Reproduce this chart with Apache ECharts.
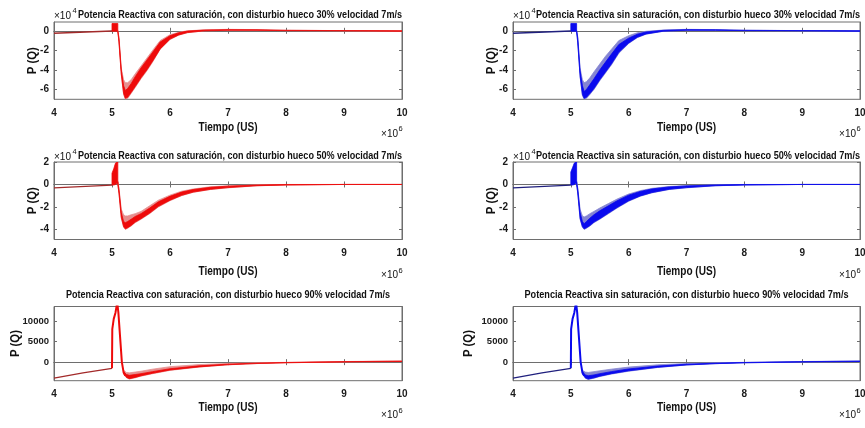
<!DOCTYPE html>
<html>
<head>
<meta charset="utf-8">
<script src="https://cdn.jsdelivr.net/npm/echarts@6/dist/echarts.min.js"></script>
<style>
    html, body { margin: 0; padding: 0; background: #fff; }
    #chart { width: 865px; height: 428px; }
</style>
</head>
<body>
<div id="chart"></div>
<script>
// x in units of 1e6 (Tiempo), rows 1-2 y in units of 1e4
const xTicks = [4, 5, 6, 7, 8, 9, 10]
const yTicks30 = [-6, -4, -2, 0]
const yTicks50 = [-4, -2, 0, 2]
const yTicks90 = [0, 5000, 10000]

const titles = [
    'Potencia Reactiva con saturación, con disturbio hueco 30% velocidad 7m/s',
    'Potencia Reactiva sin saturación, con disturbio hueco 30% velocidad 7m/s',
    'Potencia Reactiva con saturación, con disturbio hueco 50% velocidad 7m/s',
    'Potencia Reactiva sin saturación, con disturbio hueco 50% velocidad 7m/s',
    'Potencia Reactiva con saturación, con disturbio hueco 90% velocidad 7m/s',
    'Potencia Reactiva sin saturación, con disturbio hueco 90% velocidad 7m/s'
]

// ---- 30% con saturacion
const con30PreX = [4.0, 5.0]
const con30PreY = [-0.25, -0.02]
const con30BlkX = [5.0, 5.1]
const con30BlkLo = [-0.05, -0.05]
const con30BlkHi = [0.75, 0.75]
const con30X = [5.10, 5.12, 5.16, 5.20, 5.23, 5.27, 5.33, 5.40, 5.50, 5.60, 5.70, 5.83, 6.00, 6.15, 6.30, 6.60, 7.00, 7.50, 8.00, 9.00, 10.0]
const con30Lo = [-0.05, -1.2, -4.5, -6.5, -7.0, -6.9, -6.4, -5.8, -4.9, -4.1, -3.2, -1.9, -0.9, -0.45, -0.2, 0.0, 0.05, 0.05, 0.02, 0.0, -0.05]
const con30Hi = [0.0, -0.6, -3.8, -5.0, -5.3, -5.3, -5.0, -4.4, -3.6, -2.8, -2.0, -1.0, -0.4, -0.15, 0.0, 0.1, 0.15, 0.12, 0.06, 0.02, 0.0]
const con30CoreLo = [-0.05, -1.1, -4.4, -6.4, -6.9, -6.8, -6.3, -5.7, -4.8, -4.0, -3.1, -1.85, -0.85, -0.42, -0.18, 0.0, 0.05, 0.05, 0.02, 0.0, -0.05]
const con30CoreHi = [0.0, -0.8, -4.0, -5.6, -6.1, -5.9, -5.4, -4.7, -3.8, -3.0, -2.2, -1.15, -0.5, -0.2, -0.03, 0.08, 0.12, 0.1, 0.05, 0.02, 0.0]

// ---- 30% sin saturacion
const sin30PreX = [4.0, 5.0]
const sin30PreY = [-0.25, -0.02]
const sin30BlkX = [5.0, 5.1]
const sin30BlkLo = [-0.05, -0.05]
const sin30BlkHi = [0.75, 0.75]
const sin30X = [5.10, 5.12, 5.16, 5.20, 5.23, 5.27, 5.33, 5.40, 5.50, 5.60, 5.70, 5.83, 6.00, 6.15, 6.30, 6.60, 7.00, 7.50, 8.00, 9.00, 10.0]
const sin30Lo = [-0.05, -1.3, -4.7, -6.6, -7.0, -6.9, -6.5, -6.0, -5.1, -4.3, -3.5, -2.3, -1.3, -0.7, -0.35, -0.05, 0.05, 0.05, 0.02, 0.0, -0.05]
const sin30Hi = [0.0, -0.6, -3.8, -5.0, -5.3, -5.2, -4.8, -4.2, -3.4, -2.6, -1.9, -1.0, -0.5, -0.2, -0.05, 0.08, 0.15, 0.12, 0.06, 0.02, 0.0]
const sin30CoreLo = [-0.05, -1.2, -4.6, -6.5, -6.9, -6.8, -6.4, -5.9, -5.0, -4.2, -3.4, -2.2, -1.25, -0.65, -0.32, -0.04, 0.05, 0.05, 0.02, 0.0, -0.05]
const sin30CoreHi = [0.0, -0.8, -4.1, -5.6, -6.2, -6.0, -5.5, -4.9, -4.0, -3.2, -2.4, -1.4, -0.75, -0.35, -0.12, 0.05, 0.12, 0.1, 0.05, 0.02, 0.0]

// ---- 50% con saturacion
const con50PreX = [4.0, 5.0]
const con50PreY = [-0.3, -0.05]
const con50BlkX = [5.0, 5.03, 5.06, 5.09, 5.10]
const con50BlkLo = [-0.05, -0.05, 0.0, 0.1, 0.1]
const con50BlkHi = [1.0, 1.4, 1.9, 2.0, 2.0]
const con50X = [5.10, 5.12, 5.16, 5.20, 5.23, 5.27, 5.33, 5.40, 5.50, 5.65, 5.80, 6.00, 6.20, 6.40, 6.70, 7.00, 7.50, 8.00, 9.00, 10.0]
const con50Lo = [0.0, -0.8, -3.0, -3.8, -4.0, -3.9, -3.7, -3.4, -3.1, -2.6, -2.0, -1.45, -1.0, -0.7, -0.45, -0.3, -0.12, -0.05, 0.0, 0.0]
const con50Hi = [0.3, -0.3, -2.2, -2.7, -2.8, -2.8, -2.7, -2.6, -2.4, -1.9, -1.4, -0.95, -0.6, -0.4, -0.2, -0.12, -0.03, 0.0, 0.0, 0.0]
const con50CoreLo = [0.0, -0.75, -2.9, -3.75, -3.95, -3.85, -3.65, -3.35, -3.05, -2.55, -1.95, -1.4, -0.97, -0.68, -0.43, -0.28, -0.11, -0.05, 0.0, 0.0]
const con50CoreHi = [0.2, -0.45, -2.5, -3.3, -3.4, -3.3, -3.1, -2.85, -2.6, -2.1, -1.55, -1.05, -0.68, -0.45, -0.25, -0.15, -0.05, -0.01, 0.0, 0.0]

// ---- 50% sin saturacion
const sin50PreX = [4.0, 5.0]
const sin50PreY = [-0.3, -0.05]
const sin50BlkX = [5.0, 5.03, 5.06, 5.09, 5.10]
const sin50BlkLo = [-0.05, -0.05, 0.0, 0.1, 0.1]
const sin50BlkHi = [1.1, 1.5, 1.9, 2.0, 2.0]
const sin50X = [5.10, 5.12, 5.16, 5.20, 5.23, 5.27, 5.33, 5.40, 5.50, 5.65, 5.80, 6.00, 6.20, 6.40, 6.70, 7.00, 7.50, 8.00, 9.00, 10.0]
const sin50Lo = [0.0, -0.8, -3.1, -3.8, -4.0, -3.9, -3.7, -3.4, -3.1, -2.6, -2.1, -1.5, -1.05, -0.75, -0.45, -0.3, -0.12, -0.05, 0.0, 0.0]
const sin50Hi = [0.3, -0.3, -2.2, -2.8, -2.9, -2.8, -2.6, -2.4, -2.1, -1.7, -1.3, -0.85, -0.55, -0.35, -0.18, -0.1, -0.03, 0.0, 0.0, 0.0]
const sin50CoreLo = [0.0, -0.75, -3.0, -3.75, -3.95, -3.85, -3.65, -3.35, -3.05, -2.55, -2.05, -1.45, -1.02, -0.72, -0.43, -0.28, -0.11, -0.05, 0.0, 0.0]
const sin50CoreHi = [0.2, -0.45, -2.5, -3.3, -3.5, -3.3, -3.0, -2.7, -2.35, -1.9, -1.45, -0.95, -0.62, -0.4, -0.22, -0.13, -0.04, -0.01, 0.0, 0.0]

// ---- 90% con saturacion (raw units)
const con90PreX = [4.0, 4.5, 5.0]
const con90PreY = [-3900, -2600, -1500]
const con90SpkX = [5.0, 5.005, 5.03, 5.06, 5.09, 5.11, 5.14, 5.17, 5.20, 5.23]
const con90SpkY = [-1500, 8000, 10500, 12000, 14500, 12000, 6000, 0, -2500, -3300]
const con90X = [5.20, 5.25, 5.30, 5.40, 5.50, 5.70, 6.00, 6.50, 7.00, 7.50, 8.00, 9.00, 10.0]
const con90Lo = [-2800, -3800, -4100, -3800, -3400, -2800, -2000, -1200, -650, -350, -150, 50, 150]
const con90Hi = [-2000, -2500, -2600, -2400, -2200, -1700, -1100, -600, -300, -150, -50, 150, 300]
const con90CoreLo = [-2700, -3700, -4000, -3700, -3300, -2700, -1900, -1150, -620, -330, -140, 60, 160]
const con90CoreHi = [-2300, -3000, -3200, -3000, -2800, -2300, -1600, -900, -480, -240, -90, 110, 250]

// ---- 90% sin saturacion (raw units)
const sin90PreX = [4.0, 4.5, 5.0]
const sin90PreY = [-3900, -2600, -1500]
const sin90SpkX = [5.0, 5.005, 5.03, 5.06, 5.09, 5.11, 5.14, 5.17, 5.20, 5.23]
const sin90SpkY = [-1500, 8000, 10500, 12000, 14500, 12000, 6000, 0, -2500, -3300]
const sin90X = [5.20, 5.25, 5.30, 5.40, 5.50, 5.70, 6.00, 6.50, 7.00, 7.50, 8.00, 9.00, 10.0]
const sin90Lo = [-2800, -3900, -4200, -3900, -3500, -2900, -2200, -1300, -700, -380, -160, 40, 150]
const sin90Hi = [-2000, -2400, -2500, -2300, -2100, -1700, -1200, -650, -320, -160, -50, 150, 300]
const sin90CoreLo = [-2700, -3800, -4100, -3800, -3400, -2800, -2100, -1250, -670, -360, -150, 50, 160]
const sin90CoreHi = [-2300, -3100, -3300, -3100, -2800, -2300, -1650, -950, -500, -250, -90, 110, 250]

const panels = [
    { pre: [con30PreX, con30PreY], blk: [con30BlkX, con30BlkLo, con30BlkHi], band: [con30X, con30Lo, con30Hi, con30CoreLo, con30CoreHi], yMin: -7, yMax: 0.9, ticks: yTicks30, pal: 'red' },
    { pre: [sin30PreX, sin30PreY], blk: [sin30BlkX, sin30BlkLo, sin30BlkHi], band: [sin30X, sin30Lo, sin30Hi, sin30CoreLo, sin30CoreHi], yMin: -7, yMax: 0.9, ticks: yTicks30, pal: 'blue' },
    { pre: [con50PreX, con50PreY], blk: [con50BlkX, con50BlkLo, con50BlkHi], band: [con50X, con50Lo, con50Hi, con50CoreLo, con50CoreHi], yMin: -4.9, yMax: 2, ticks: yTicks50, pal: 'red' },
    { pre: [sin50PreX, sin50PreY], blk: [sin50BlkX, sin50BlkLo, sin50BlkHi], band: [sin50X, sin50Lo, sin50Hi, sin50CoreLo, sin50CoreHi], yMin: -4.9, yMax: 2, ticks: yTicks50, pal: 'blue' },
    { pre: [con90PreX, con90PreY], spk: [con90SpkX, con90SpkY], band: [con90X, con90Lo, con90Hi, con90CoreLo, con90CoreHi], yMin: -4500, yMax: 13500, ticks: yTicks90, pal: 'red' },
    { pre: [sin90PreX, sin90PreY], spk: [sin90SpkX, sin90SpkY], band: [sin90X, sin90Lo, sin90Hi, sin90CoreLo, sin90CoreHi], yMin: -4500, yMax: 13500, ticks: yTicks90, pal: 'blue' }
]

const palettes = {
    red: { light: '#e68f8f', core: '#ee0a0a', pre: '#a32a2a' },
    blue: { light: '#8585d2', core: '#0a0aee', pre: '#20207e' }
}

// layout
const colLeft = [54, 513]
const colWidth = [348, 347]
const rowTop = [22, 162, 306.5]
const rowHeight = [77.3, 77.5, 74.2]
const yNameX = [[33, 492], [33, 492], [16, 469]]
const xNameY = [128, 272, 408]
const titleY = [15, 156, 295]
const titleWidth = 324
const FONT = '"Liberation Sans", Arial, sans-serif'

const axisColor = '#6e6e6e'
const labelFont = { fontFamily: FONT, fontWeight: 'bold', fontSize: 10, color: '#1a1a1a' }

// narrow look: squeeze text horizontally to the width seen in the figure
const measureCtx = document.createElement('canvas').getContext('2d')
function fitScale (text, font, width) {
    measureCtx.font = font
    return width / measureCtx.measureText(text).width
}

function pairs (x, y) {
    return x.map((v, k) => [v, y[k]])
}

// filled envelope between lo and hi, drawn through the axis scales
function band (i, x, lo, hi, color) {
    return {
        type: 'custom', xAxisIndex: i, yAxisIndex: i, silent: true, clip: true,
        data: x.map((v, k) => [v, lo[k], hi[k]]),
        encode: { x: 0, y: [1, 2] },
        renderItem: function (params, api) {
            if (params.dataIndex !== 0) return null
            const pts = []
            for (let k = 0; k < x.length; k++) pts.push(api.coord([x[k], hi[k]]))
            for (let k = x.length - 1; k >= 0; k--) pts.push(api.coord([x[k], lo[k]]))
            return {
                type: 'polygon', shape: { points: pts },
                style: { fill: color, stroke: color, lineWidth: 0.8 }
            }
        }
    }
}

const grid = [], xAxis = [], yAxis = [], series = [], graphic = []
const titleFont = 'bold 11px ' + FONT
const nameFont = 'bold 12px ' + FONT

panels.forEach((p, i) => {
    const row = Math.floor(i / 2), col = i % 2
    const left = colLeft[col], top = rowTop[row], w = colWidth[col], h = rowHeight[row]
    const pal = palettes[p.pal]
    grid.push({
        left: left, top: top, width: w, height: h,
        show: true, borderColor: axisColor, borderWidth: 1, backgroundColor: '#fff',
        containLabel: false, outerBoundsMode: 'none'
    })
    xAxis.push({
        gridIndex: i, type: 'value', min: 4, max: 10, interval: 1,
        axisLine: { show: true, lineStyle: { color: axisColor } },
        axisTick: { show: true, inside: true, length: 3, lineStyle: { color: axisColor }, customValues: xTicks },
        axisLabel: Object.assign({ margin: 9, customValues: xTicks }, labelFont),
        splitLine: { show: false }
    })
    yAxis.push({
        gridIndex: i, type: 'value', min: p.yMin, max: p.yMax,
        axisLine: { show: true, lineStyle: { color: axisColor } },
        axisTick: { show: true, inside: true, length: 3, lineStyle: { color: axisColor }, customValues: p.ticks },
        axisLabel: Object.assign({ margin: 5, customValues: p.ticks, formatter: v => String(v) }, labelFont, row === 2 ? { fontSize: 9.5 } : {}),
        splitLine: { show: false }
    })

    // outer light envelope, dark core, pre-fault line
    series.push(band(i, p.band[0], p.band[1], p.band[2], pal.light))
    series.push(band(i, p.band[0], p.band[3], p.band[4], pal.core))
    if (p.blk) {
        series.push(band(i, p.blk[0], p.blk[1], p.blk[2], pal.core))
    }
    if (p.spk) {
        series.push({
            type: 'line', xAxisIndex: i, yAxisIndex: i, symbol: 'none', silent: true,
            lineStyle: { width: 2, color: pal.core }, data: pairs(p.spk[0], p.spk[1])
        })
    }
    series.push({
        type: 'line', xAxisIndex: i, yAxisIndex: i, symbol: 'none', silent: true,
        lineStyle: { width: 1.3, color: pal.pre }, data: pairs(p.pre[0], p.pre[1])
    })

    // title
    const ts = fitScale(titles[i], titleFont, titleWidth)
    if (row < 2) {
        graphic.push({ type: 'text', x: left, y: titleY[row] + 1, style: { text: '×10', font: '10px ' + FONT, fill: '#111', textVerticalAlign: 'middle' }, silent: true })
        graphic.push({ type: 'text', x: left + 18.5, y: titleY[row] - 4, style: { text: '4', font: '7.5px ' + FONT, fill: '#111', textVerticalAlign: 'middle' }, silent: true })
        graphic.push({ type: 'text', x: left + w, y: titleY[row], scaleX: ts, style: { text: titles[i], font: titleFont, fill: '#111', textAlign: 'right', textVerticalAlign: 'middle' }, silent: true })
    } else {
        graphic.push({ type: 'text', x: left + w / 2, y: titleY[row], scaleX: ts, style: { text: titles[i], font: titleFont, fill: '#111', textAlign: 'center', textVerticalAlign: 'middle' }, silent: true })
    }

    // axis names
    graphic.push({ type: 'text', x: left + w / 2, y: xNameY[row], scaleX: fitScale('Tiempo (US)', nameFont, 59), style: { text: 'Tiempo (US)', font: nameFont, fill: '#111', textAlign: 'center', textVerticalAlign: 'middle' }, silent: true })
    graphic.push({ type: 'text', x: yNameX[row][col], y: top + h / 2, rotation: Math.PI / 2, scaleX: fitScale('P (Q)', nameFont, 27), style: { text: 'P (Q)', font: nameFont, fill: '#111', textAlign: 'center', textVerticalAlign: 'middle' }, silent: true })

    // x exponent
    const expY = top + h + (row === 1 ? 36 : 35)
    graphic.push({ type: 'text', x: left + w - 4, y: expY, style: { text: '×10', font: '10px ' + FONT, fill: '#111', textAlign: 'right', textVerticalAlign: 'middle' }, silent: true })
    graphic.push({ type: 'text', x: left + w - 3.5, y: expY - 5, style: { text: '6', font: '7.5px ' + FONT, fill: '#111', textAlign: 'left', textVerticalAlign: 'middle' }, silent: true })
})

// top and right edge axes: inner ticks only (box look)
panels.forEach((p, i) => {
    xAxis.push({
        gridIndex: i, type: 'value', position: 'top', min: 4, max: 10, interval: 1,
        axisLine: { show: true, lineStyle: { color: axisColor } },
        axisTick: { show: true, inside: true, length: 3, lineStyle: { color: axisColor }, customValues: xTicks },
        axisLabel: { show: false }, splitLine: { show: false }
    })
    yAxis.push({
        gridIndex: i, type: 'value', position: 'right', min: p.yMin, max: p.yMax,
        axisLine: { show: true, lineStyle: { color: axisColor } },
        axisTick: { show: true, inside: true, length: 3, lineStyle: { color: axisColor }, customValues: p.ticks },
        axisLabel: { show: false }, splitLine: { show: false }
    })
})

const chart = echarts.init(document.getElementById('chart'), null, { renderer: 'canvas' })
chart.setOption({
    animation: false,
    backgroundColor: '#fff',
    grid: grid,
    xAxis: xAxis,
    yAxis: yAxis,
    series: series,
    graphic: graphic
})
</script>
</body>
</html>
